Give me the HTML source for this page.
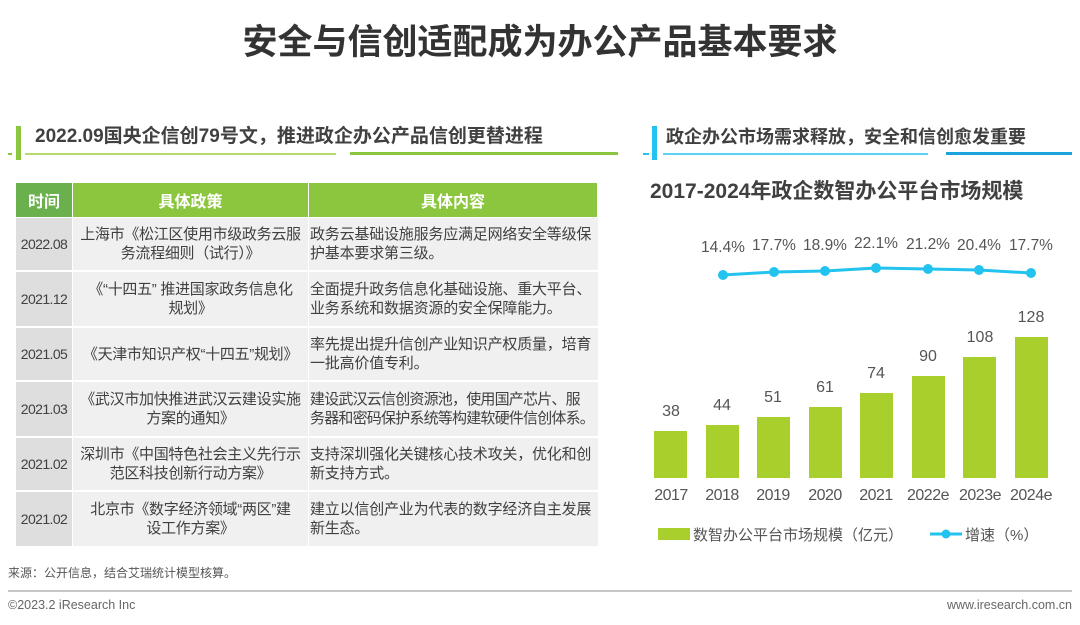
<!DOCTYPE html>
<html><head><meta charset="utf-8"><style>
body{margin:0;width:1080px;height:625px;background:#fff;position:relative;overflow:hidden;font-family:"Liberation Sans","Noto Sans CJK SC",sans-serif;color:#404040}
.a{position:absolute;white-space:nowrap}
.cell{position:absolute;display:flex;align-items:center;font-size:15px;line-height:19px;color:#404040;overflow:hidden;white-space:nowrap}
.c1{left:16px;width:56px;background:#dedede;justify-content:center;font-size:14px;letter-spacing:-0.6px}
.c2{left:73px;width:235px;background:#f0f0f0;justify-content:center;text-align:center;letter-spacing:-0.3px}
.c3{left:309px;width:288px;background:#f0f0f0;padding-left:1px;letter-spacing:-0.2px}
.h{position:absolute;top:183px;height:34px;display:flex;align-items:center;justify-content:center;color:#fff;font-weight:bold;font-size:16px;background:#8cc63f}
</style></head><body>
<div class="a" style="left:0;width:1080px;top:14px;text-align:center;font-size:35px;font-weight:bold;color:#333">安全与信创适配成为办公产品基本要求</div>

<div class="a" style="left:16px;top:126px;width:5px;height:34px;background:#8cc63f"></div>
<div class="a" style="left:8px;top:153px;width:4px;height:2px;background:#8cc63f"></div>
<div class="a" style="left:25px;top:153px;width:311px;height:2px;background:#b5dc6a"></div>
<div class="a" style="left:350px;top:152px;width:268px;height:3px;background:#8cc63f"></div>
<div class="a" style="left:35px;top:121px;font-size:19px;font-weight:bold;color:#404040">2022.09国央企信创79号文，推进政企办公产品信创更替进程</div>

<div class="h" style="left:16px;width:56px;background:#6ab04c">时间</div>
<div class="h" style="left:73px;width:235px">具体政策</div>
<div class="h" style="left:309px;width:288px">具体内容</div>

<div class="cell c1" style="top:218px;height:52px">2022.08</div>
<div class="cell c2" style="top:218px;height:52px">上海市《松江区使用市级政务云服<br>务流程细则（试行）》</div>
<div class="cell c3" style="top:218px;height:52px">政务云基础设施服务应满足网络安全等级保<br>护基本要求第三级。</div>

<div class="cell c1" style="top:272px;height:54px">2021.12</div>
<div class="cell c2" style="top:272px;height:54px">《“十四五” 推进国家政务信息化<br>规划》</div>
<div class="cell c3" style="top:272px;height:54px">全面提升政务信息化基础设施、重大平台、<br>业务系统和数据资源的安全保障能力。</div>

<div class="cell c1" style="top:328px;height:52px">2021.05</div>
<div class="cell c2" style="top:328px;height:52px">《天津市知识产权“十四五”规划》</div>
<div class="cell c3" style="top:328px;height:52px">率先提出提升信创产业知识产权质量，培育<br>一批高价值专利。</div>

<div class="cell c1" style="top:382px;height:54px">2021.03</div>
<div class="cell c2" style="top:382px;height:54px">《武汉市加快推进武汉云建设实施<br>方案的通知》</div>
<div class="cell c3" style="top:382px;height:54px;letter-spacing:-0.8px">建设武汉云信创资源池，使用国产芯片、服<br>务器和密码保护系统等构建软硬件信创体系。</div>

<div class="cell c1" style="top:438px;height:52px">2021.02</div>
<div class="cell c2" style="top:438px;height:52px">深圳市《中国特色社会主义先行示<br>范区科技创新行动方案》</div>
<div class="cell c3" style="top:438px;height:52px">支持深圳强化关键核心技术攻关，优化和创<br>新支持方式。</div>

<div class="cell c1" style="top:492px;height:54px">2021.02</div>
<div class="cell c2" style="top:492px;height:54px">北京市《数字经济领域“两区”建<br>设工作方案》</div>
<div class="cell c3" style="top:492px;height:54px">建立以信创产业为代表的数字经济自主发展<br>新生态。</div>

<div class="a" style="left:8px;top:564px;font-size:12px;color:#555">来源：公开信息，结合艾瑞统计模型核算。</div>
<div class="a" style="left:8px;top:590px;width:1064px;height:2px;background:#c8c8c8"></div>
<div class="a" style="left:8px;top:598px;font-size:12.5px;color:#666">©2023.2 iResearch Inc</div>
<div class="a" style="right:8px;top:598px;font-size:12.5px;color:#666">www.iresearch.com.cn</div>

<div class="a" style="left:652px;top:126px;width:5px;height:34px;background:#22c3ee"></div>
<div class="a" style="left:643px;top:153px;width:6px;height:2px;background:#22c3ee"></div>
<div class="a" style="left:663px;top:153px;width:265px;height:2px;background:#5dd3f3"></div>
<div class="a" style="left:946px;top:152px;width:126px;height:3px;background:#1aa3dc"></div>
<div class="a" style="left:666px;top:123px;font-size:18px;font-weight:bold;color:#404040">政企办公市场需求释放，安全和信创愈发重要</div>

<div class="a" style="left:650px;top:175px;font-size:21px;font-weight:bold;color:#404040">2017-2024年政企数智办公平台市场规模</div>

<svg class="a" style="left:0;top:0" width="1080" height="625">
<g font-family="Liberation Sans, sans-serif" font-size="15.5" fill="#555" text-anchor="middle">
<text x="723" y="252">14.4%</text><text x="774" y="250">17.7%</text><text x="825" y="250">18.9%</text><text x="876" y="248">22.1%</text><text x="928" y="249">21.2%</text><text x="979" y="250">20.4%</text><text x="1031" y="250">17.7%</text>
</g>
<polyline points="723,275 774,272 825,271 876,268 928,269 979,270 1031,273" fill="none" stroke="#22c3ee" stroke-width="3"/>
<g fill="#22c3ee"><circle cx="723" cy="275" r="5"/><circle cx="774" cy="272" r="5"/><circle cx="825" cy="271" r="5"/><circle cx="876" cy="268" r="5"/><circle cx="928" cy="269" r="5"/><circle cx="979" cy="270" r="5"/><circle cx="1031" cy="273" r="5"/></g>
<g fill="#a8cf2c">
<rect x="654" y="431" width="33" height="47"/><rect x="706" y="425" width="33" height="53"/><rect x="757" y="417" width="33" height="61"/><rect x="809" y="407" width="33" height="71"/><rect x="860" y="393" width="33" height="85"/><rect x="912" y="376" width="33" height="102"/><rect x="963" y="357" width="33" height="121"/><rect x="1015" y="337" width="33" height="141"/>
</g>
<g font-family="Liberation Sans, sans-serif" font-size="16" fill="#555" text-anchor="middle">
<text x="671" y="416">38</text><text x="722" y="410">44</text><text x="773" y="402">51</text><text x="825" y="392">61</text><text x="876" y="378">74</text><text x="928" y="361">90</text><text x="980" y="342">108</text><text x="1031" y="322">128</text>
</g>
<g font-family="Liberation Sans, sans-serif" font-size="16" fill="#555" text-anchor="middle" letter-spacing="-0.5">
<text x="671" y="500">2017</text><text x="722" y="500">2018</text><text x="773" y="500">2019</text><text x="825" y="500">2020</text><text x="876" y="500">2021</text><text x="928" y="500">2022e</text><text x="980" y="500">2023e</text><text x="1031" y="500">2024e</text>
</g>
<rect x="658" y="528" width="32" height="12" fill="#a8cf2c"/>
<line x1="930" y1="534" x2="962" y2="534" stroke="#22c3ee" stroke-width="3"/>
<circle cx="946" cy="534" r="4.5" fill="#22c3ee"/>
<g font-family="Liberation Sans, Noto Sans CJK SC, sans-serif" font-size="15" fill="#555">
<text x="693" y="540">数智办公平台市场规模（亿元）</text><text x="965" y="540">增速（%）</text>
</g>
</svg>
</body></html>
